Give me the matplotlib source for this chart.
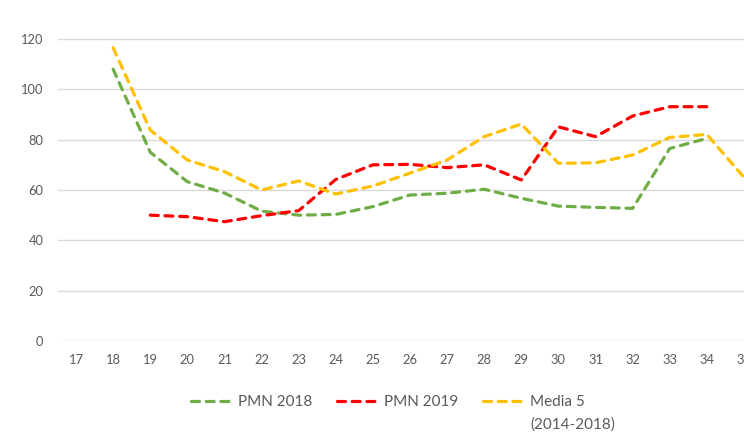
import numpy as np
import matplotlib.pyplot as plt
from matplotlib.transforms import IdentityTransform

plt.rcParams['font.family'] = ['Lato', 'DejaVu Sans']

# Semanas epidemiologicas y valores
semanas = np.arange(17, 36)
nan = np.nan
pmn_2018 = [nan, 108, 75, 63.3, 58.8, 51.6, 50, 50.3, 53.4, 58, 58.7, 60.3,
            56.7, 53.6, 53.1, 52.7, 76.5, 80.5, nan]
pmn_2019 = [nan, nan, 50, 49.4, 47.4, 49.8, 51.8, 64.2, 70, 70.2, 68.9, 70,
            64, 85.1, 81.2, 89.4, 93.1, 93.1, nan]
media_5 = [nan, 116.5, 83.8, 71.9, 67.3, 60, 63.6, 58.4, 61.6, 66.7, 71.9,
           81.2, 86.2, 70.6, 70.8, 73.9, 80.9, 82.1, 65]

etiquetas = ['PMN 2018', 'PMN 2019', 'Media 5']
colores = ['#70AD47', '#FF0000', '#FFC000']

W, H = 744, 432
fig = plt.figure(figsize=(W / 100, H / 100), dpi=100)
ax = fig.add_axes([57.5 / W, (H - 341) / H, 705 / W, 302 / H])

for serie, lab, col in zip([pmn_2018, pmn_2019, media_5], etiquetas, colores):
    ax.plot(semanas, serie, color=col, lw=2.3, label=lab,
            dashes=(2.5, 2.1), dash_capstyle='round')

ax.set_xlim(16.5, 35.5)
ax.set_ylim(0, 120)
ax.set_xticks(semanas)
ax.set_yticks(range(0, 121, 20))
ax.grid(axis='y', color='#d9d9d9', lw=1.0)
ax.set_axisbelow(True)
for s in ax.spines.values():
    s.set_visible(False)
ax.tick_params(length=0, labelsize=9.3, labelcolor='#595959')
ax.tick_params(axis='y', pad=10)
ax.tick_params(axis='x', pad=9)

leg = fig.legend(loc='center', bbox_to_anchor=(388 / W, 0.069), ncol=3,
                 frameon=False, fontsize=11, handlelength=2.6,
                 handletextpad=0.5, columnspacing=1.6, labelcolor='#595959')

# segunda linea de la etiqueta de la media
fig.canvas.draw()
bb = leg.get_texts()[2].get_window_extent()
fig.text(bb.x0, bb.y0 - 23, '(2014-2018)', transform=IdentityTransform(),
         fontsize=11, color='#595959', va='bottom', ha='left')

fig.savefig('out.png', dpi=100)
